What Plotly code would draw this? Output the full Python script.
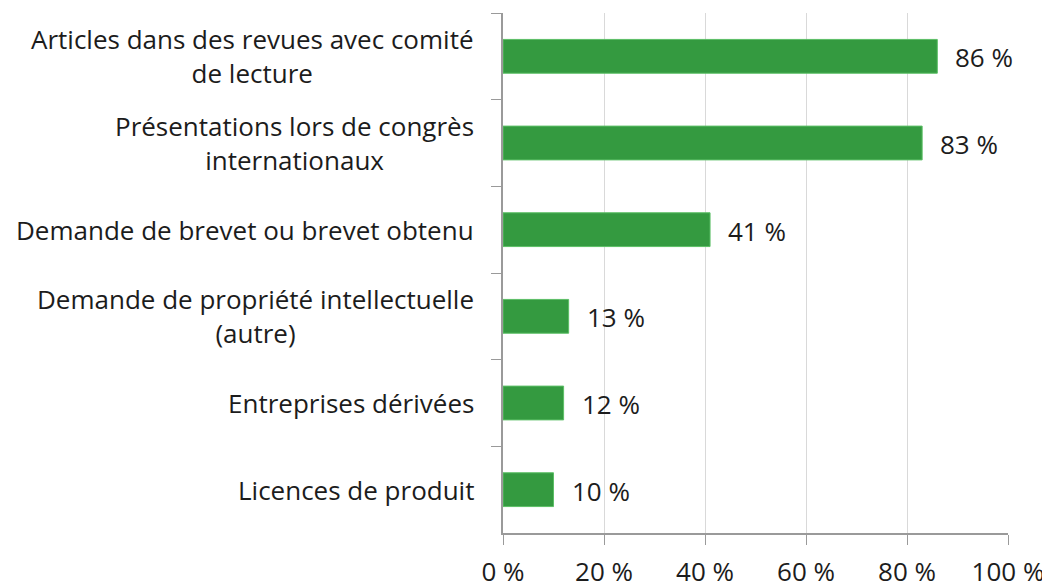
import plotly.graph_objects as go

categories = [
    "Articles dans des revues avec comité<br>de lecture",
    "Présentations lors de congrès<br>internationaux",
    "Demande de brevet ou brevet obtenu",
    "Demande de propriété intellectuelle<br>(autre)",
    "Entreprises dérivées",
    "Licences de produit",
]
values = [86, 83, 41, 13, 12, 10]
value_labels = ["86 %", "83 %", "41 %", "13 %", "12 %", "10 %"]
x_ticks = [0, 20, 40, 60, 80, 100]
x_tick_labels = ["0 %", "20 %", "40 %", "60 %", "80 %", "100 %"]

FONT = "Open Sans"
SIZE = 26
TXT = "#1c1c1c"
GREEN = "#349A40"

fig = go.Figure()
fig.add_trace(go.Bar(
    x=values, y=categories, orientation="h",
    marker=dict(color=GREEN, line=dict(color="#5cbf66", width=1)),
    width=0.39, hoverinfo="skip",
))

for c, v, t in zip(categories, values, value_labels):
    fig.add_annotation(x=v, y=c, xref="x", yref="y", text=t, showarrow=False,
                       xanchor="left", xshift=16, yshift=-1,
                       font=dict(family=FONT, size=SIZE, color=TXT))
    fig.add_annotation(x=0, y=c, xref="paper", yref="y", text=c, showarrow=False,
                       xanchor="right", xshift=-27, align="center",
                       font=dict(family=FONT, size=SIZE, color=TXT))

fig.update_layout(
    width=1042, height=579,
    margin=dict(l=495, r=42, t=5, b=54, autoexpand=False),
    paper_bgcolor="white", plot_bgcolor="white",
    showlegend=False,
    font=dict(family=FONT, size=SIZE, color=TXT),
    xaxis=dict(
        range=[0, 100], tickvals=x_ticks, ticktext=x_tick_labels,
        showgrid=True, gridcolor="#d9d9d9", gridwidth=1,
        showline=True, linecolor="#9a9a9a", linewidth=1.5,
        ticks="outside", ticklen=10, tickcolor="#9a9a9a",
        ticklabelstandoff=5,
        tickfont=dict(family=FONT, size=SIZE, color=TXT),
        zeroline=False, fixedrange=True, automargin=False,
    ),
    yaxis=dict(
        categoryorder="array", categoryarray=categories, autorange="reversed",
        showticklabels=False, showline=True, linecolor="#9a9a9a", linewidth=1.5,
        ticks="outside", ticklen=10, tickcolor="#9a9a9a", tickson="boundaries",
        showgrid=False, zeroline=False, fixedrange=True, automargin=False,
    ),
)

fig.write_html("out.html")
